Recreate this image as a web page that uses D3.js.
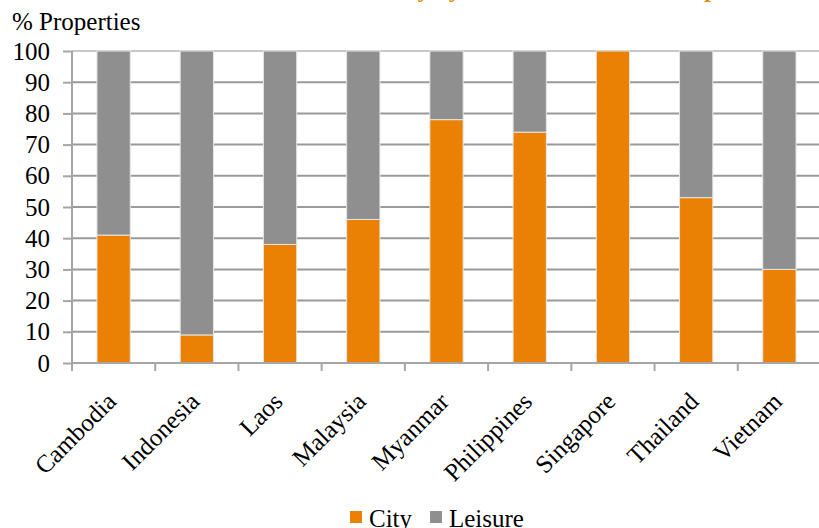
<!DOCTYPE html>
<html>
  <head>
    <style>
      body { margin: 0; background: #fff; }
      svg { display: block; font-family: "Liberation Serif", serif; }
      .grid line { stroke: #9a9a9a; stroke-width: 2; }
      .axis path, .axis line { stroke: #a6a6a6; stroke-width: 2; }
      .axis text { fill: #000; font-size: 25px; font-family: "Liberation Serif", serif; }
    </style>
  </head>
  <body>
    <svg id="chart"></svg>

    <script src="https://d3js.org/d3.v7.min.js"></script>
    <script type="text/javascript">
      const countries = ["Cambodia", "Indonesia", "Laos", "Malaysia", "Myanmar", "Philippines", "Singapore", "Thailand", "Vietnam"];
      const city = [41, 9, 38, 46, 78, 74, 100, 53, 30];
      const leisure = [59, 91, 62, 54, 22, 26, 0, 47, 70];
      const yTicks = [0, 10, 20, 30, 40, 50, 60, 70, 80, 90, 100];
      const seriesNames = ["City", "Leisure"];
      const colors = ["#ea8104", "#8f8f8f"];

      (function() {
        const width = 819, height = 528;
        const left = 72, right = 821, top = 51, bottom = 363;

        const svg = d3.select("#chart").attr("width", width).attr("height", height);

        const x = d3.scaleBand().domain(countries).range([left, right])
          .paddingInner(0.6).paddingOuter(0.3);
        const y = d3.scaleLinear().domain([0, 100]).range([bottom, top]);

        // title, mostly above the visible area (cut off in the original too)
        const title = svg.append("text")
          .attr("y", -3)
          .attr("fill", "#ea8104")
          .attr("font-weight", "bold")
          .attr("font-size", "24px")
          .text("Hotel Inventory by Urban and Leisure Properties");
        const yPos = title.node().getSubStringLength(0, "Hotel Inventory b".length);
        title.attr("x", 449 - yPos);

        // gridlines
        svg.append("g").attr("class", "grid")
          .selectAll("line").data(yTicks.slice(1, -1)).enter().append("line")
          .attr("x1", left).attr("x2", right)
          .attr("y1", d => y(d)).attr("y2", d => y(d));
        svg.append("line")
          .attr("x1", left).attr("x2", right)
          .attr("y1", y(100)).attr("y2", y(100))
          .attr("stroke", "#c8c8c8").attr("stroke-width", 2);

        // stacked bars
        const stacked = countries.map((c, i) => ({ name: c, city: city[i], leisure: leisure[i] }));
        const series = d3.stack().keys(["city", "leisure"])(stacked);

        svg.append("g").selectAll("g").data(series).enter().append("g")
          .attr("fill", (d, i) => colors[i])
          .selectAll("rect").data(d => d).enter().append("rect")
          .attr("x", d => x(d.data.name))
          .attr("width", x.bandwidth())
          .attr("y", d => y(d[1]))
          .attr("height", d => y(d[0]) - y(d[1]))
          .attr("stroke", "#e6e6e6")
          .attr("stroke-width", 1);

        // y axis
        svg.append("g").attr("class", "axis")
          .attr("transform", "translate(" + left + ",0)")
          .call(d3.axisLeft(y).tickValues(yTicks).tickSize(9).tickPadding(13))
          .call(g => g.select(".domain").attr("d", "M0," + top + "V" + bottom));

        // x axis with ticks between categories
        const xa = svg.append("g").attr("class", "axis")
          .attr("transform", "translate(0," + bottom + ")");
        xa.append("line").attr("x1", left).attr("x2", right).attr("y1", 0).attr("y2", 0);
        const step = x.step();
        xa.selectAll(".tk").data(d3.range(countries.length + 1)).enter().append("line")
          .attr("class", "tk")
          .attr("x1", i => left + i * step).attr("x2", i => left + i * step)
          .attr("y1", 0).attr("y2", 8);
        xa.selectAll(".lbl").data(countries).enter().append("text")
          .attr("class", "lbl")
          .attr("text-anchor", "end")
          .attr("transform", d => "translate(" + (x(d) + x.bandwidth() / 2 + 4) + ",40) rotate(-45)")
          .text(d => d);

        // y label
        svg.append("text")
          .attr("x", 12).attr("y", 30)
          .attr("font-size", "25px")
          .text("% Properties");

        // legend
        const legend = svg.append("g").attr("transform", "translate(350,511)");
        const item = legend.selectAll("g").data(seriesNames).enter().append("g")
          .attr("transform", (d, i) => "translate(" + (i * 80) + ",0)");
        item.append("rect").attr("width", 12).attr("height", 12).attr("fill", (d, i) => colors[i]);
        item.append("text").attr("x", 19).attr("y", 16).attr("font-size", "25px").text(d => d);
      })()
    </script>
  </body>
</html>
